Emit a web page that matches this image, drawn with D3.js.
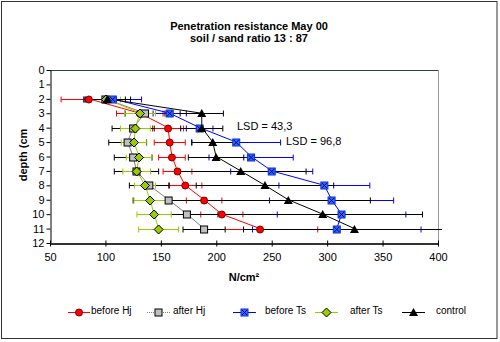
<!DOCTYPE html>
<meta charset="utf-8">
<title>Penetration resistance</title>
<style>
    body { margin: 0; background: #fff; }
    text { font-family: Arial, "Liberation Sans", sans-serif; }
</style>
<body>
<script src="https://cdn.jsdelivr.net/npm/d3@7"></script>
<script>

    var w = 500, h = 342;

    // depth (cm) of each reading
    var depth = [2, 3, 4, 5, 6, 7, 8, 9, 10, 11];

    // mean resistance (N/cm²) and error (±) per series
    var beforeHj    = [85, 131, 156.5, 158, 160, 165, 172, 189, 205, 239.5];
    var beforeHjErr = [25, 21, 14, 14, 12, 13, 15, 16, 19, 52];
    var afterHj     = [100, 135.7, 125, 120, 125, 128, 139.6, 157, 173.5, 189];
    var afterHjErr  = [18, 18, 19, 17, 17, 20, 18, 32, 28, 19];
    var beforeTs    = [106.6, 158, 185, 218, 231.4, 250, 297.5, 304, 313, 308.7];
    var beforeTsErr = [26, 15, 12, 40, 38, 37, 41, 56, 58, 76];
    var afterTs     = [100.5, 131.2, 127, 125.8, 130.3, 128.2, 135.7, 140.3, 143.9, 148];
    var afterTsErr  = [13, 14, 13.5, 11.5, 11.5, 12.5, 9.5, 14.5, 15.5, 18];
    var control     = [101.7, 186.9, 186.9, 196.8, 199.8, 222, 243.9, 265, 296, 324.6];
    var controlErr  = [21, 19.5, 19, 19, 25, 59, 62, 74, 90, 100];

    var xTicks = [50, 100, 150, 200, 250, 300, 350, 400];
    var yTicks = d3.range(0, 13);

    var series = [
        {name: "before Hj", values: beforeHj, err: beforeHjErr, line: "#ff0000", bar: "#ff0000", marker: "circle"},
        {name: "after Hj",  values: afterHj,  err: afterHjErr,  line: "#808080", bar: "#000000", marker: "square"},
        {name: "before Ts", values: beforeTs, err: beforeTsErr, line: "#0000ff", bar: "#0000ff", marker: "xsquare"},
        {name: "after Ts",  values: afterTs,  err: afterTsErr,  line: "#99cc00", bar: "#99cc00", marker: "diamond"},
        {name: "control",   values: control,  err: controlErr,  line: "#000000", bar: "#000000", marker: "triangle"}
    ];

    var x = d3.scaleLinear().domain([50, 400]).range([50, 438]);
    var y = d3.scaleLinear().domain([0, 12]).range([70, 243]);

    var svg = d3.select("body").append("svg")
        .attr("width", w)
        .attr("height", h);

    svg.append("rect")
        .attr("x", 1.5).attr("y", 1.5)
        .attr("width", 495.5).attr("height", 337)
        .attr("fill", "#fff")
        .attr("stroke", "#333");

    // plot area frame
    svg.append("line").attr("x1", x(50)).attr("x2", x(400)).attr("y1", y(0) + .5).attr("y2", y(0) + .5)
        .attr("stroke", "#2f3f3f");
    svg.append("line").attr("x1", x(400) + .5).attr("x2", x(400) + .5).attr("y1", y(0)).attr("y2", y(12))
        .attr("stroke", "#999");

    svg.append("defs").append("clipPath").attr("id", "plot")
        .append("rect").attr("x", x(50)).attr("y", y(0)).attr("width", x(400) - x(50) + 4).attr("height", y(12) - y(0));

    var plot = svg.append("g").attr("clip-path", "url(#plot)");

    // error bars
    series.forEach(function(s) {
        var g = plot.append("g").attr("stroke", s.bar).attr("stroke-width", 1);
        depth.forEach(function(d, i) {
            var yy = Math.round(y(d)) + .5,
                x0 = x(s.values[i] - s.err[i]),
                x1 = x(s.values[i] + s.err[i]);
            g.append("line").attr("x1", x0).attr("x2", x1).attr("y1", yy).attr("y2", yy);
            g.append("line").attr("x1", x0).attr("x2", x0).attr("y1", yy - 3).attr("y2", yy + 3);
            g.append("line").attr("x1", x1).attr("x2", x1).attr("y1", yy - 3).attr("y2", yy + 3);
        });
    });

    var line = d3.line()
        .x(function(d) { return x(d[1]); })
        .y(function(d) { return y(d[0]); });

    series.forEach(function(s) {
        plot.append("path")
            .datum(d3.zip(depth, s.values))
            .attr("d", line)
            .attr("fill", "none")
            .attr("stroke", s.line)
            .attr("stroke-width", 1);
    });

    function marker(g, type) {
        if (type == "circle") {
            g.append("circle").attr("r", 3.5).attr("fill", "#ff0000").attr("stroke", "#800000");
        } else if (type == "square") {
            g.append("rect").attr("x", -3.5).attr("y", -3.5).attr("width", 7).attr("height", 7)
                .attr("fill", "#c0c0c0").attr("stroke", "#000");
        } else if (type == "xsquare") {
            g.append("rect").attr("x", -3.5).attr("y", -3.5).attr("width", 7).attr("height", 7)
                .attr("fill", "#3366ff").attr("stroke", "#0033cc");
            g.append("path").attr("d", "M-2.5,-2.5L2.5,2.5M2.5,-2.5L-2.5,2.5").attr("stroke", "#000080");
        } else if (type == "diamond") {
            g.append("path").attr("d", "M0,-4.5L4.5,0L0,4.5L-4.5,0Z")
                .attr("fill", "#99cc00").attr("stroke", "#000");
        } else {
            g.append("path").attr("d", "M0,-4.5L4.5,3.5L-4.5,3.5Z").attr("fill", "#000");
        }
    }

    series.forEach(function(s) {
        depth.forEach(function(d, i) {
            var g = svg.append("g")
                .attr("transform", "translate(" + x(s.values[i]) + "," + (Math.round(y(d)) + .5) + ")");
            marker(g, s.marker);
        });
    });

    // axes
    var yAxis = svg.append("g")
        .attr("transform", "translate(" + (x(50) + .5) + ",0)")
        .call(d3.axisLeft(y).tickValues(yTicks).tickSize(4).tickSizeOuter(0));

    var xAxis = svg.append("g")
        .attr("transform", "translate(0," + (y(12) + .5) + ")")
        .call(d3.axisBottom(x).tickValues(xTicks).tickSize(3).tickSizeOuter(0).tickPadding(7));
    xAxis.selectAll(".tick line").attr("y1", -3);
    xAxis.select(".domain").attr("stroke-width", 2).attr("stroke", "#333");

    svg.selectAll(".tick text").attr("font-size", 11).attr("font-family", "Arial, 'Liberation Sans', sans-serif").attr("fill", "#000");
    yAxis.selectAll(".tick text").attr("x", -6);

    // titles
    svg.append("text").attr("x", 249).attr("y", 30).attr("text-anchor", "middle")
        .attr("font-size", 11).attr("font-weight", "bold").text("Penetration resistance May 00");
    svg.append("text").attr("x", 249).attr("y", 42).attr("text-anchor", "middle")
        .attr("font-size", 11).attr("font-weight", "bold").text("soil / sand ratio 13 : 87");
    svg.append("text").attr("transform", "translate(27,155)rotate(-90)").attr("text-anchor", "middle")
        .attr("font-size", 11).attr("font-weight", "bold").text("depth (cm");
    svg.append("text").attr("x", 244).attr("y", 281).attr("text-anchor", "middle")
        .attr("font-size", 11).attr("font-weight", "bold").text("N/cm²");

    svg.append("text").attr("x", 237).attr("y", 130).attr("font-size", 11).text("LSD = 43,3");
    svg.append("text").attr("x", 286).attr("y", 145).attr("font-size", 11).text("LSD = 96,8");

    // legend
    var legendX = [[68, 90, 91], [147, 170, 173], [233, 256, 265], [315, 338, 350], [402, 425, 436]];
    series.forEach(function(s, i) {
        var p = legendX[i], ly = 312.5;
        svg.append("line").attr("x1", p[0]).attr("x2", p[1]).attr("y1", ly).attr("y2", ly)
            .attr("stroke", s.line).attr("stroke-dasharray", s.marker == "square" ? "1,1" : null);
        marker(svg.append("g").attr("transform", "translate(" + ((p[0] + p[1]) / 2) + "," + ly + ")"), s.marker);
        svg.append("text").attr("x", p[2]).attr("y", ly + 1).attr("font-size", 10).text(s.name);
    });

</script>
